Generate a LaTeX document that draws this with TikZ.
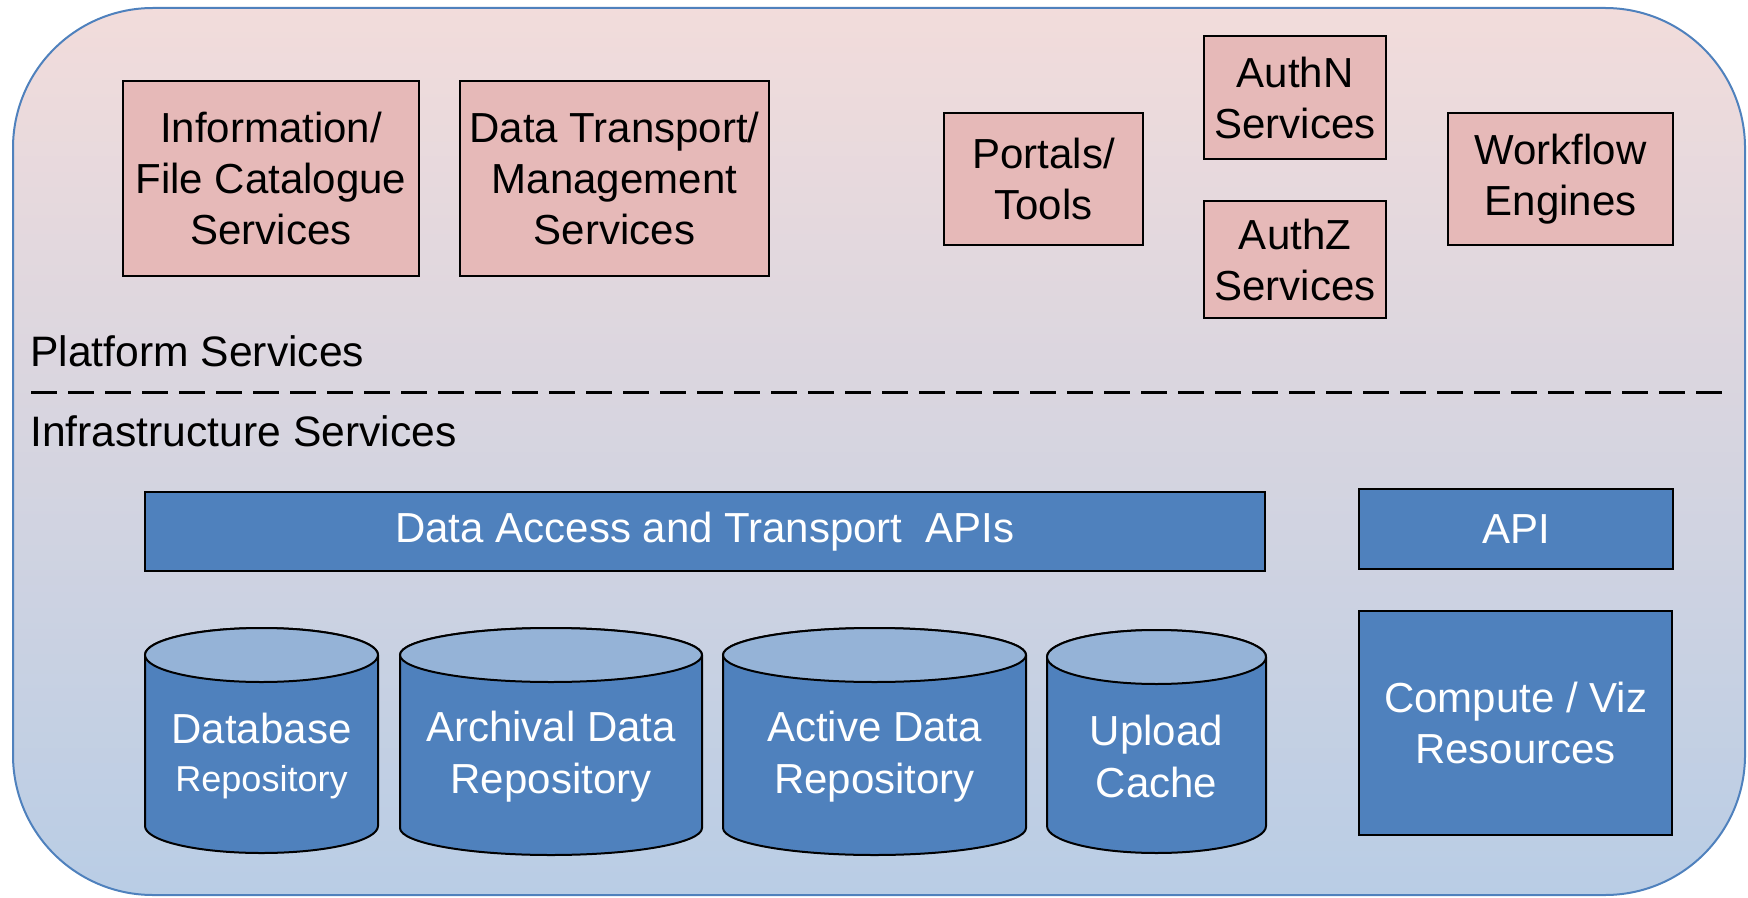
\documentclass[tikz,border=0pt]{standalone}
\usepackage{fontspec}
\setmainfont{Liberation Sans}
\definecolor{bgtop}{HTML}{F2DCDB}
\definecolor{bgbot}{HTML}{B9CDE5}
\definecolor{pinkbox}{HTML}{E6B9B8}
\definecolor{bluebox}{HTML}{4F81BD}
\definecolor{cyltopc}{HTML}{95B3D7}
\definecolor{frame}{HTML}{4F81BD}
\tikzset{
  pbox/.style={draw=black, line width=1pt, fill=pinkbox, inner sep=0pt, align=center,
    font=\fontsize{21}{25.5}\selectfont},
  bbox/.style={draw=black, line width=1pt, fill=bluebox, inner sep=0pt, align=center,
    text=white, font=\fontsize{21}{25.5}\selectfont},
  cylbody/.style={draw=black, line width=1pt, fill=bluebox},
  cyltop/.style={draw=black, line width=1pt, fill=cyltopc},
  cyltext/.style={text=white, align=center, inner sep=0pt, font=\fontsize{21}{26}\selectfont},
  layerlabel/.style={anchor=west, inner sep=0pt, font=\fontsize{21.3}{25}\selectfont}
}
\newcommand{\mycyl}[4]{%
  \pgfmathsetmacro\myrx{(#2-#1)/4}%
  \filldraw[cylbody] (#1,#3+27) -- (#1,#4-27)
     arc[start angle=180, end angle=360, x radius=\myrx pt, y radius=13.5pt]
     -- (#2,#3+27)
     arc[start angle=0, end angle=180, x radius=\myrx pt, y radius=13.5pt] -- cycle;
  \filldraw[cyltop] ({(#1+#2)/2},#3+27) ellipse[x radius=\myrx pt, y radius=13.5pt];
}
\begin{document}
\begin{tikzpicture}[x=0.5pt, y=-0.5pt]
\useasboundingbox (0,0) rectangle (1748,898);
% outer frame
\shade[top color=bgtop, bottom color=bgbot, draw=frame, line width=1pt, rounded corners=70pt]
  (13,8) rectangle (1745,895);

% platform services
\node[pbox, minimum width=148pt, minimum height=97.5pt] (info) at (271,178.5)
  {Information/\\File Catalogue\\Services};
\node[pbox, minimum width=154.5pt, minimum height=97.5pt] (transport) at (614.5,178.5)
  {Data Transport/\\Management\\Services};
\node[pbox, minimum width=99.5pt, minimum height=66pt] (portals) at (1043.5,179)
  {Portals/\\Tools};
\node[pbox, minimum width=91pt, minimum height=61.5pt] (authn) at (1295,97.5)
  {AuthN\\Services};
\node[pbox, minimum width=91pt, minimum height=58.5pt] (authz) at (1295,259.5)
  {AuthZ\\Services};
\node[pbox, minimum width=112.5pt, minimum height=66pt] (workflow) at (1560.5,179)
  {Workflow\\Engines};

% layer labels and divider
\node[layerlabel] (platform) at (30,351) {Platform Services};
\coordinate (divL) at (31,392);
\coordinate (divR) at (1724,392);
\draw[line width=1.5pt, dash pattern=on 13pt off 5.5pt] (divL) -- (divR);
\node[layerlabel] (infra) at (30,431) {Infrastructure Services};

% infrastructure
\node[bbox, minimum width=560pt, minimum height=39.5pt] (dataapi) at (705,531.5)
  {Data Access and Transport\ \ APIs};
\node[bbox, minimum width=157pt, minimum height=40pt] (api) at (1516,529) {API};
\node[bbox, minimum width=156.5pt, minimum height=112pt] (compute) at (1515.5,723)
  {Compute / Viz\\Resources};

% cylinders
\mycyl{145}{378}{628}{853}
\node[cyltext] (database) at (261.5,756)
  {Database\\[-2pt]{\fontsize{18}{22}\selectfont Repository}};
\mycyl{400}{702}{628}{855}
\node[cyltext] (archival) at (551,757) {Archival Data\\Repository};
\mycyl{723}{1026}{628}{855}
\node[cyltext] (active) at (874.5,757) {Active Data\\Repository};
\mycyl{1047}{1266}{630}{853}
\node[cyltext] (upload) at (1156.5,756) {Upload\\Cache};
\end{tikzpicture}
\end{document}
